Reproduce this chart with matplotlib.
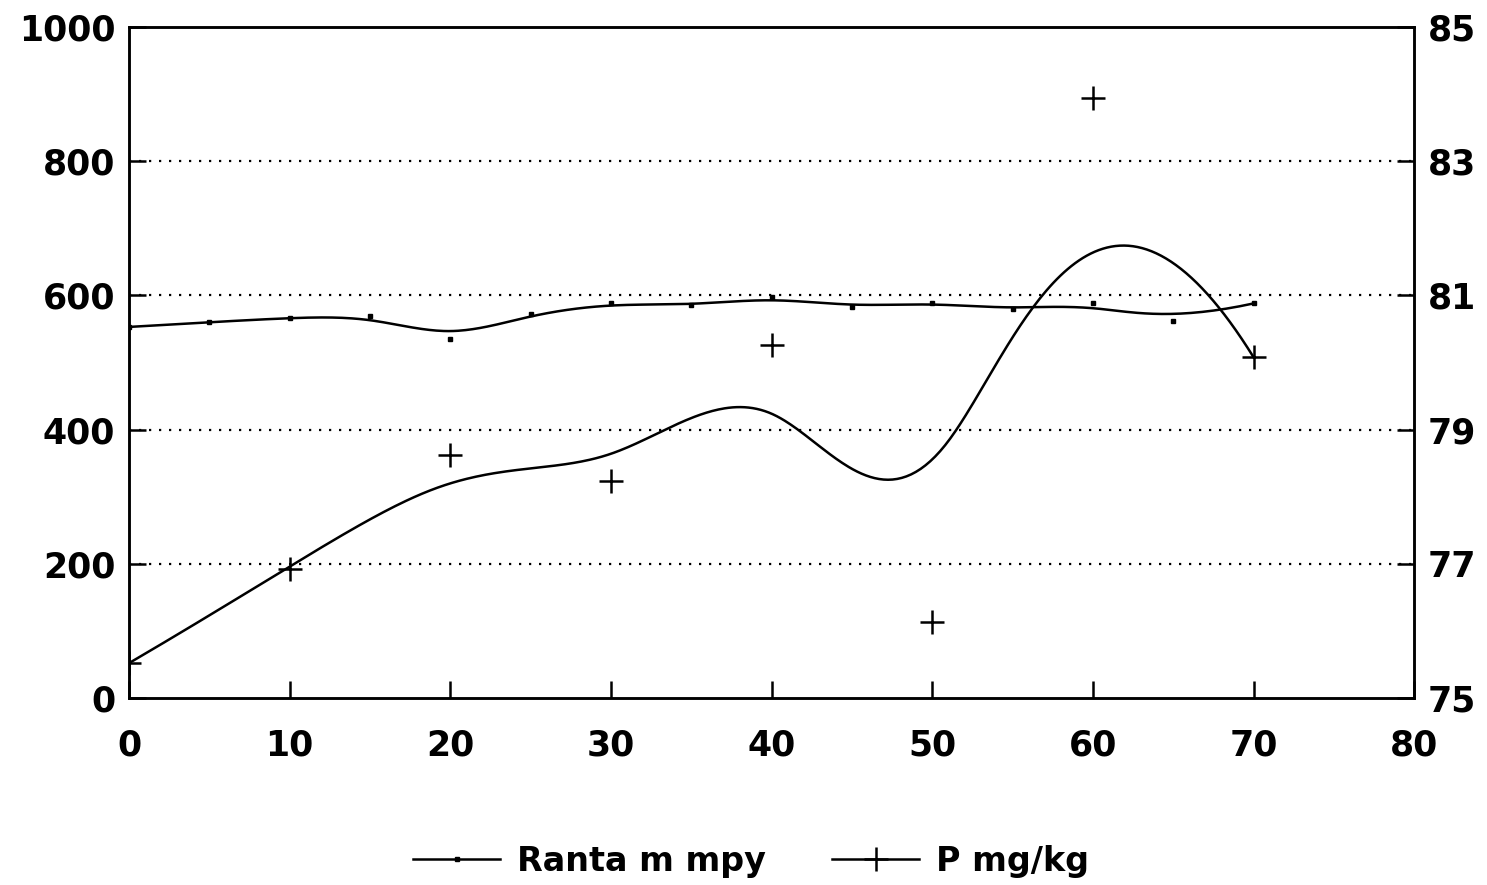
import numpy as np
import matplotlib
matplotlib.use('Agg')
import matplotlib.pyplot as plt
from matplotlib.lines import Line2D

# Data
ranta_x = [0, 5, 10, 15, 20, 25, 30, 35, 40, 45, 50, 55, 60, 65, 70]
ranta_mpy = [553, 560, 567, 569, 535, 572, 588, 585, 597, 583, 589, 579, 588, 562, 588]

p_x = [0, 10, 20, 30, 40, 50, 60, 70]
p_mgkg = [75.52, 76.92, 78.62, 78.24, 80.26, 76.14, 83.94, 80.08]

left_ticks = [0, 200, 400, 600, 800, 1000]
right_ticks = [75, 77, 79, 81, 83, 85]
x_ticks = [0, 10, 20, 30, 40, 50, 60, 70, 80]


def bspline(xs, ys, n_pts=400):
    # clamped uniform cubic B-spline, data points used as control points
    ctrl = np.column_stack([xs, ys]).astype(float)
    n = len(ctrl)
    k = 3
    knots = np.concatenate([np.zeros(k), np.arange(n - k + 1), np.full(k, n - k)])
    u = np.linspace(0, n - k, n_pts)
    u[-1] -= 1e-9
    # Cox-de Boor recursion
    N = np.zeros((n_pts, len(knots) - 1))
    for i in range(len(knots) - 1):
        N[:, i] = (u >= knots[i]) & (u < knots[i + 1])
    for d in range(1, k + 1):
        newN = np.zeros((n_pts, len(knots) - 1 - d))
        for i in range(len(knots) - 1 - d):
            a = knots[i + d] - knots[i]
            b = knots[i + d + 1] - knots[i + 1]
            t1 = (u - knots[i]) / a * N[:, i] if a > 0 else 0
            t2 = (knots[i + d + 1] - u) / b * N[:, i + 1] if b > 0 else 0
            newN[:, i] = t1 + t2
        N = newN
    pts = N @ ctrl
    return pts[:, 0], pts[:, 1]


plt.rcParams['font.family'] = 'DejaVu Sans'
plt.rcParams['font.weight'] = 'bold'

fig = plt.figure(figsize=(14.87, 8.85), dpi=100)
ax = fig.add_axes([0.0868, 0.2113, 0.8642, 0.7582])
ax2 = ax.twinx()

# grid (dotted) on left axis
for v in left_ticks[1:-1]:
    ax.axhline(v, color='black', lw=1.6, linestyle=(0, (1, 3.5)), zorder=1)

# Ranta curve with tiny square markers
rx, ry = bspline(ranta_x, ranta_mpy)
ax.plot(rx, ry, color='black', lw=1.8, zorder=3)
ax.plot(ranta_x, ranta_mpy, linestyle='none', marker='s', markersize=2.5,
        color='black', zorder=3)

# P curve on the right axis with + markers
px, py = bspline(p_x, p_mgkg)
ax2.plot(px, py, color='black', lw=1.8, zorder=3)
ax2.plot(p_x, p_mgkg, linestyle='none', marker='+', markersize=17,
         markeredgewidth=1.8, color='black', zorder=3)

ax.set_xlim(0, 80)
ax.set_ylim(0, 1000)
ax2.set_ylim(75, 85)

ax.set_xticks(x_ticks)
ax.set_yticks(left_ticks)
ax2.set_yticks(right_ticks)

for a in (ax, ax2):
    for s in a.spines.values():
        s.set_linewidth(1.8)
ax.tick_params(axis='both', direction='in', length=12, width=1.8,
               labelsize=25, pad=10)
ax.tick_params(axis='x', pad=22)
ax2.tick_params(axis='y', direction='in', length=12, width=1.8,
                labelsize=25, pad=10)

# legend below the plot
handles = [
    Line2D([], [], color='black', lw=1.8, marker='s', markersize=2.5),
    Line2D([], [], color='black', lw=1.8, marker='+', markersize=17,
           markeredgewidth=1.8),
]
fig.legend(handles, ['Ranta m mpy', 'P mg/kg'], loc='center',
           bbox_to_anchor=(0.505, 0.027), ncol=2, frameon=False,
           fontsize=24, handlelength=2.6, columnspacing=2.0, handletextpad=0.5)

plt.savefig('out.png', dpi=100)
